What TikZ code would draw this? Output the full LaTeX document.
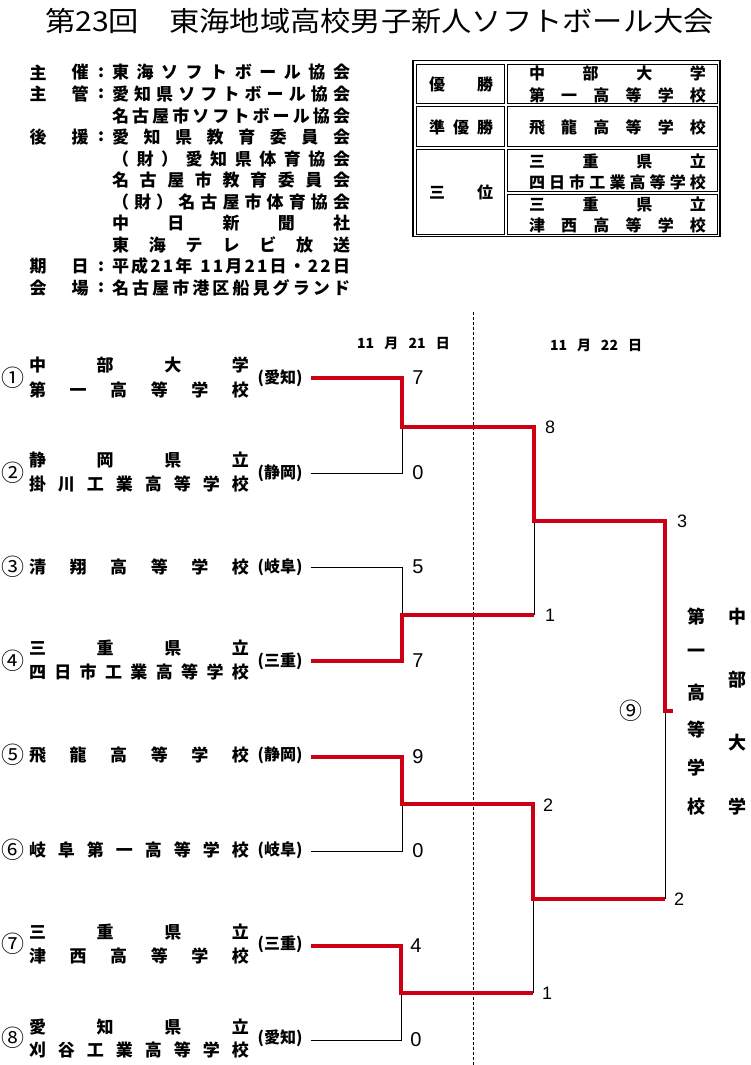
\documentclass[tikz,border=0pt]{standalone}
\usepackage{fontspec}
\usepackage{graphicx}
\newfontfamily\cjk{Noto Sans CJK JP}
\newfontfamily\arl{Liberation Sans}
\definecolor{winred}{RGB}{204,0,18}
\newcommand\fsz[1]{\fontsize{#1}{#1}\selectfont}
\makeatletter
\newcommand\spr[2]{\makebox[#1][s]{\spr@a#2\spr@end}}
\def\spr@a#1{#1\spr@b}
\def\spr@endm{\spr@end}
\def\spr@b#1{\def\spr@tmp{#1}\ifx\spr@tmp\spr@endm\else\hfill#1\expandafter\spr@b\fi}
\makeatother
\begin{document}
\begin{tikzpicture}[x=1pt,y=-1pt,
  every node/.style={inner sep=0pt,outer sep=0pt,font=\cjk\bfseries},
  winline/.style={draw=winred,line width=3.6pt,line join=miter},
  loseline/.style={draw=black,line width=1pt},
  info/.style={anchor=west,font=\cjk\bfseries\fsz{17}},
  lab/.style={font=\cjk\bfseries\fsz{17}},
  tab/.style={font=\cjk\bfseries\fsz{16}},
  team/.style={anchor=west,font=\cjk\bfseries\fsz{17}},
  pref/.style={font=\cjk\bfseries\fsz{16}},
  circ/.style={font=\cjk\fsz{23}},
  scoreA/.style={anchor=center,font=\arl\fsz{20}},
  scoreB/.style={anchor=center,font=\arl\fsz{18}},
  vert/.style={font=\cjk\bfseries\fsz{18}},
  datehead/.style={font=\cjk\bfseries\fsz{14}},
  divider/.style={draw=black,line width=0.9pt,dash pattern=on 3pt off 2pt}
]
\useasboundingbox (0,0) rectangle (750,1065);

% ---------- title ----------
\node[font=\cjk] (title) at (379.5,21) {\scalebox{1.1}[1]{\fsz{27.5}第23回　東海地域高校男子新人ソフトボール大会}};

% ---------- information block ----------
\foreach \r/\a/\b in {0/主/催,1/主/管,3/後/援,9/期/日,10/会/場}{
  \node[lab] (la\r) at (38,72.5+21.55*\r) {\a};
  \node[lab] (lb\r) at (80,72.5+21.55*\r) {\b};
  \node[lab] (lc\r) at (101,72.5+21.55*\r) {:};
}
\node[info] (i0) at (112,72.5) {\spr{238pt}{東海ソフトボール協会}};
\node[info] (i1) at (112,94.05) {\spr{238pt}{愛知県ソフトボール協会}};
\node[info] (i2) at (112,115.6) {\spr{238pt}{名古屋市ソフトボール協会}};
\node[info] (i3) at (112,137.15) {\spr{238pt}{愛知県教育委員会}};
\node[info] (i4) at (112,158.7) {\spr{238pt}{（財）愛知県体育協会}};
\node[info] (i5) at (112,180.25) {\spr{238pt}{名古屋市教育委員会}};
\node[info] (i6) at (112,201.8) {\spr{238pt}{（財）名古屋市体育協会}};
\node[info] (i7) at (112,223.35) {\spr{238pt}{中日新聞社}};
\node[info] (i8) at (112,244.9) {\spr{238pt}{東海テレビ放送}};
\node[info] (i9) at (112,266.45) {\spr{238pt}{平成21{年\hspace{6pt}}11月21日・22日}};
\node[info] (i10) at (112,288) {\spr{238pt}{名古屋市港区船見グランド}};

% ---------- results table ----------
\draw[line width=1.6pt] (413,60.5) rectangle (720,236.5);
\begin{scope}[line width=0.9pt]
  \draw (416,64) rectangle (504,103.5);
  \draw (416,106.5) rectangle (504,146.5);
  \draw (416,149.5) rectangle (504,234);
  \draw (507.5,64) rectangle (717,103.5);
  \draw (507.5,106.5) rectangle (717,146.5);
  \draw (507.5,149.5) rectangle (717,191.5);
  \draw (507.5,194.5) rectangle (717,234);
\end{scope}
\node[tab] (k1) at (461,84) {\spr{64pt}{優勝}};
\node[tab] (k2) at (461,127) {\spr{64pt}{準優勝}};
\node[tab] (k3) at (461,192) {\spr{64pt}{三位}};
\node[tab] (r1a) at (617.5,73.5) {\spr{177pt}{中部大学}};
\node[tab] (r1b) at (617.5,95) {\spr{177pt}{第一高等学校}};
\node[tab] (r2) at (617.5,127) {\spr{177pt}{飛龍高等学校}};
\node[tab] (r3a) at (617.5,161) {\spr{177pt}{三重県立}};
\node[tab] (r3b) at (617.5,182.5) {\spr{177pt}{四日市工業高等学校}};
\node[tab] (r4a) at (617.5,204) {\spr{177pt}{三重県立}};
\node[tab] (r4b) at (617.5,225) {\spr{177pt}{津西高等学校}};

% ---------- bracket headers ----------
\coordinate (dtop) at (473,312);
\coordinate (dbot) at (473,1065);
\draw[divider] (dtop) -- (dbot);
\node[datehead] (day1) at (403.5,343) {\spr{93pt}{{11}月{21}日}};
\node[datehead] (day2) at (596,345) {\spr{92pt}{{11}月{22}日}};

% ---------- teams ----------
\node[circ] (c1) at (13,378) {①};
\node[team] (n1a) at (29,365) {\spr{220pt}{中部大学}};
\node[team] (n1b) at (29,390) {\spr{220pt}{第一高等学校}};
\node[pref] (p1) at (280,378) {(愛知)};

\node[circ] (c2) at (13,473) {②};
\node[team] (n2a) at (29,460) {\spr{220pt}{静岡県立}};
\node[team] (n2b) at (29,484) {\spr{220pt}{掛川工業高等学校}};
\node[pref] (p2) at (280,473) {(静岡)};

\node[circ] (c3) at (13,567) {③};
\node[team] (n3) at (29,567) {\spr{220pt}{清翔高等学校}};
\node[pref] (p3) at (280,567) {(岐阜)};

\node[circ] (c4) at (13,661) {④};
\node[team] (n4a) at (29,648) {\spr{220pt}{三重県立}};
\node[team] (n4b) at (29,672) {\spr{220pt}{四日市工業高等学校}};
\node[pref] (p4) at (280,661) {(三重)};

\node[circ] (c5) at (13,755) {⑤};
\node[team] (n5) at (29,755) {\spr{220pt}{飛龍高等学校}};
\node[pref] (p5) at (280,755) {(静岡)};

\node[circ] (c6) at (13,850) {⑥};
\node[team] (n6) at (29,850) {\spr{220pt}{岐阜第一高等学校}};
\node[pref] (p6) at (280,850) {(岐阜)};

\node[circ] (c7) at (13,944) {⑦};
\node[team] (n7a) at (29,932) {\spr{220pt}{三重県立}};
\node[team] (n7b) at (29,956) {\spr{220pt}{津西高等学校}};
\node[pref] (p7) at (280,944) {(三重)};

\node[circ] (c8) at (13,1038) {⑧};
\node[team] (n8a) at (29,1027) {\spr{220pt}{愛知県立}};
\node[team] (n8b) at (29,1050) {\spr{220pt}{刈谷工業高等学校}};
\node[pref] (p8) at (280,1038) {(愛知)};

% ---------- bracket coordinates ----------
\coordinate (t1) at (311,378);
\coordinate (t2) at (311,473);
\coordinate (t3) at (311,567);
\coordinate (t4) at (311,661);
\coordinate (t5) at (311,757);
\coordinate (t6) at (311,851);
\coordinate (t7) at (311,946);
\coordinate (t8) at (311,1040);
\coordinate (m1) at (402,427);
\coordinate (m2) at (402,615);
\coordinate (m3) at (402,804);
\coordinate (m4) at (401,993);
\coordinate (s1) at (534,521);
\coordinate (s2) at (533,899);
\coordinate (f) at (665,711);
\coordinate (fe) at (673,711);

% losing lines
\draw[loseline] (t2) -| (m1);
\draw[loseline] (t3) -| (m2);
\draw[loseline] (t6) -| (m3);
\draw[loseline] (t8) -| (m4);
\draw[loseline] (s1) -- (m2 -| s1);
\draw[loseline] (s2) -- (m4 -| s2);
\draw[loseline] (f) -- (s2 -| f);

% winning lines
\draw[winline] (t1) -| (m1) -| (s1) -| (f) -- (fe);
\draw[winline] (t4) -| (m2) -- (m2 -| s1);
\draw[winline] (t5) -| (m3) -| (s2) -- (s2 -| f);
\draw[winline] (t7) -| (m4) -- (m4 -| s2);

% ---------- scores ----------
\node[scoreA] (g1) at (418,378) {7};
\node[scoreA] (g2) at (418,473) {0};
\node[scoreA] (g3) at (418,567) {5};
\node[scoreA] (g4) at (418,661) {7};
\node[scoreA] (g5) at (418,757) {9};
\node[scoreA] (g6) at (418,851) {0};
\node[scoreA] (g7) at (416,946) {4};
\node[scoreA] (g8) at (416,1040) {0};
\node[scoreB] (h1) at (550,427) {8};
\node[scoreB] (h2) at (550,615) {1};
\node[scoreB] (h3) at (548,805) {2};
\node[scoreB] (h4) at (547,993) {1};
\node[scoreB] (q1) at (682,521) {3};
\node[scoreB] (q2) at (679,899) {2};

% ---------- champion ----------
\node[circ] (c9) at (631,711) {⑨};
\foreach \ch/\yy [count=\i] in {第/617,一/653,高/693,等/730,学/768,校/807}
  \node[vert] (va\i) at (696,\yy) {\ch};
\foreach \ch/\yy [count=\i] in {中/617,部/680,大/743,学/807}
  \node[vert] (vb\i) at (737,\yy) {\ch};
\end{tikzpicture}
\end{document}
